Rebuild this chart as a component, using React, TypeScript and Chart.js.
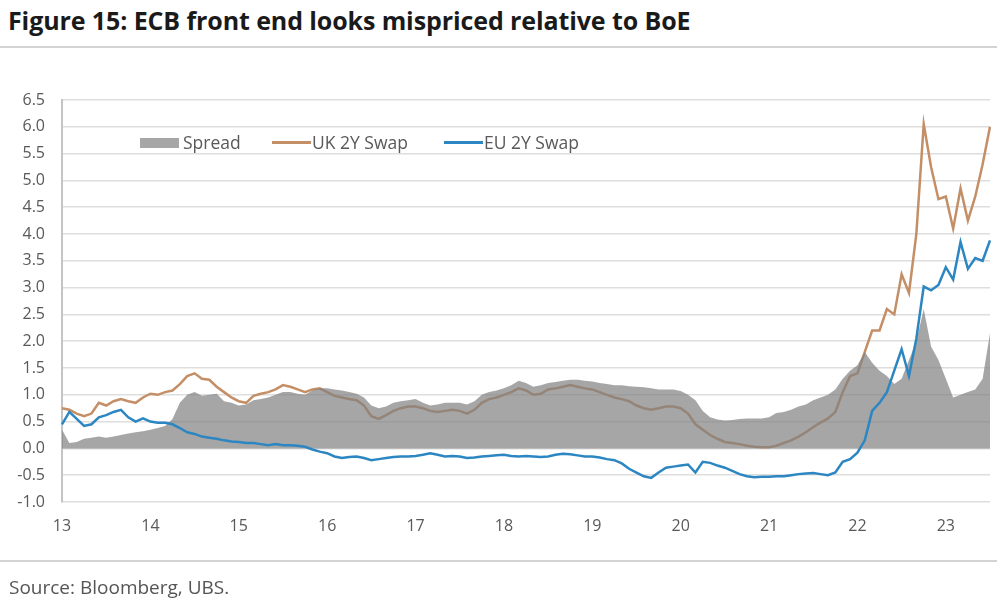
import React, { useEffect, useRef } from 'react';
import { Chart, registerables } from 'chart.js';

Chart.register(...registerables);

const TITLE = 'Figure 15: ECB front end looks mispriced relative to BoE';
const SOURCE = 'Source: Bloomberg, UBS.';
const SERIES_NAMES = ['Spread', 'UK 2Y Swap', 'EU 2Y Swap'];
const YEAR_LABELS = ['13', '14', '15', '16', '17', '18', '19', '20', '21', '22', '23'];
const START_YEAR = 2013;

// Monthly observations, Jan 2013 .. Jul 2023
const ukSwap = [
  0.75, 0.72, 0.65, 0.60, 0.65, 0.85, 0.80, 0.88, 0.92, 0.88, 0.85, 0.95,
  1.02, 1.00, 1.05, 1.08, 1.20, 1.35, 1.40, 1.30, 1.28, 1.15, 1.05, 0.95,
  0.88, 0.85, 0.98, 1.02, 1.05, 1.10, 1.18, 1.15, 1.10, 1.05, 1.10, 1.12,
  1.05, 0.98, 0.95, 0.92, 0.90, 0.80, 0.60, 0.55, 0.62, 0.70, 0.75, 0.78,
  0.78, 0.75, 0.70, 0.68, 0.70, 0.72, 0.70, 0.65, 0.72, 0.85, 0.92, 0.95,
  1.00, 1.05, 1.12, 1.08, 1.00, 1.02, 1.10, 1.12, 1.15, 1.18, 1.15, 1.12,
  1.10, 1.05, 1.00, 0.95, 0.92, 0.88, 0.80, 0.75, 0.72, 0.75, 0.78, 0.78,
  0.75, 0.65, 0.45, 0.35, 0.25, 0.18, 0.12, 0.10, 0.08, 0.05, 0.03, 0.02,
  0.02, 0.05, 0.10, 0.15, 0.22, 0.30, 0.40, 0.48, 0.56, 0.68, 1.05, 1.35,
  1.40, 1.80, 2.20, 2.20, 2.60, 2.50, 3.25, 2.90, 4.00, 6.05, 5.25, 4.65,
  4.70, 4.10, 4.85, 4.25, 4.70, 5.30, 6.00,
];

const euSwap = [
  0.45, 0.68, 0.55, 0.42, 0.45, 0.58, 0.62, 0.68, 0.72, 0.58, 0.50, 0.56,
  0.50, 0.48, 0.48, 0.45, 0.38, 0.30, 0.27, 0.22, 0.20, 0.18, 0.15, 0.13,
  0.12, 0.10, 0.10, 0.08, 0.06, 0.08, 0.06, 0.06, 0.05, 0.03, -0.02, -0.06,
  -0.09, -0.15, -0.18, -0.16, -0.15, -0.18, -0.22, -0.20, -0.18, -0.16, -0.15, -0.15,
  -0.14, -0.12, -0.09, -0.12, -0.15, -0.14, -0.15, -0.18, -0.17, -0.15, -0.14, -0.13,
  -0.12, -0.14, -0.15, -0.14, -0.15, -0.16, -0.15, -0.12, -0.10, -0.11, -0.13, -0.15,
  -0.15, -0.17, -0.20, -0.22, -0.28, -0.38, -0.45, -0.52, -0.55, -0.45, -0.36, -0.34,
  -0.32, -0.30, -0.45, -0.25, -0.27, -0.32, -0.36, -0.42, -0.48, -0.52, -0.54, -0.53,
  -0.53, -0.52, -0.52, -0.50, -0.48, -0.47, -0.46, -0.48, -0.50, -0.45, -0.25, -0.20,
  -0.08, 0.15, 0.70, 0.85, 1.05, 1.45, 1.85, 1.35, 2.05, 3.02, 2.95, 3.05,
  3.38, 3.15, 3.85, 3.35, 3.55, 3.50, 3.88,
];

const spread = [
  0.35, 0.10, 0.12, 0.18, 0.20, 0.22, 0.20, 0.22, 0.25, 0.28, 0.30, 0.32,
  0.35, 0.38, 0.42, 0.55, 0.85, 1.00, 1.05, 0.98, 1.00, 1.02, 0.88, 0.85,
  0.80, 0.82, 0.90, 0.92, 0.95, 1.00, 1.05, 1.05, 1.02, 1.00, 1.08, 1.12,
  1.12, 1.10, 1.08, 1.05, 1.02, 0.95, 0.80, 0.75, 0.78, 0.85, 0.88, 0.90,
  0.92, 0.85, 0.80, 0.82, 0.85, 0.85, 0.85, 0.82, 0.88, 1.00, 1.05, 1.08,
  1.12, 1.18, 1.26, 1.22, 1.15, 1.18, 1.22, 1.24, 1.26, 1.28, 1.28, 1.26,
  1.25, 1.22, 1.20, 1.18, 1.18, 1.16, 1.15, 1.14, 1.12, 1.10, 1.10, 1.10,
  1.07, 1.00, 0.90, 0.70, 0.58, 0.54, 0.52, 0.53, 0.55, 0.56, 0.56, 0.56,
  0.58, 0.66, 0.68, 0.72, 0.78, 0.82, 0.90, 0.95, 1.00, 1.10, 1.30, 1.45,
  1.55, 1.80, 1.60, 1.45, 1.35, 1.20, 1.30, 1.65, 2.00, 2.60, 1.90, 1.65,
  1.30, 0.95, 1.00, 1.05, 1.10, 1.30, 2.15,
];

const months = ukSwap.map((_, i) => `${START_YEAR + Math.floor(i / 12)}-${String((i % 12) + 1).padStart(2, '0')}`);

const UK_COLOR = '#C48F66';
const EU_COLOR = '#2C86C2';
const SPREAD_COLOR = 'rgba(128,128,128,0.7)';
const TEXT_COLOR = '#595959';
const FONT = '"Open Sans", Lato, sans-serif';

export default function App() {
  const canvasRef = useRef<HTMLCanvasElement | null>(null);

  useEffect(() => {
    if (!canvasRef.current) return;
    const chart = new Chart(canvasRef.current, {
      type: 'line',
      data: {
        labels: months,
        datasets: [
          {
            label: SERIES_NAMES[2],
            data: euSwap,
            borderColor: EU_COLOR,
            borderWidth: 2.5,
            pointRadius: 0,
            tension: 0,
            fill: false,
            order: 0,
          },
          {
            label: SERIES_NAMES[0],
            data: spread,
            borderWidth: 0,
            borderColor: 'rgba(0,0,0,0)',
            backgroundColor: SPREAD_COLOR,
            pointRadius: 0,
            tension: 0,
            fill: 'origin',
            order: 1,
          },
          {
            label: SERIES_NAMES[1],
            data: ukSwap,
            borderColor: UK_COLOR,
            borderWidth: 2.5,
            pointRadius: 0,
            tension: 0,
            fill: false,
            order: 2,
          },
        ],
      },
      options: {
        responsive: false,
        animation: false,
        devicePixelRatio: 1,
        layout: { padding: { top: 100, right: 7, bottom: 56, left: 0 } },
        plugins: { legend: { display: false }, tooltip: { enabled: false } },
        scales: {
          x: {
            type: 'category',
            offset: false,
            grid: { display: false, drawTicks: false },
            border: { display: false },
            afterFit: (s: any) => { s.height = 40; },
            ticks: {
              autoSkip: false,
              maxRotation: 0,
              padding: 15,
              color: TEXT_COLOR,
              font: { family: FONT, size: 16 },
              callback: (_v: any, i: number) => (i % 12 === 0 ? YEAR_LABELS[i / 12] : null),
            },
          },
          y: {
            min: -1,
            max: 6.5,
            afterFit: (s: any) => { s.width = 62; },
            grid: { color: '#dedede', lineWidth: 1.5, drawTicks: false },
            border: { display: true, color: '#c4c4c4', width: 2 },
            ticks: {
              stepSize: 0.5,
              padding: 17,
              color: TEXT_COLOR,
              font: { family: FONT, size: 16 },
              callback: (v: any) => Number(v).toFixed(1),
            },
          },
        },
      },
    });
    return () => chart.destroy();
  }, []);

  const legendText: React.CSSProperties = {
    position: 'absolute', top: 131, fontFamily: FONT, fontSize: 17.5, color: TEXT_COLOR, lineHeight: '22px', whiteSpace: 'nowrap',
  };

  return (
    <div style={{ position: 'absolute', left: 0, top: 0, width: 997, height: 598, background: '#fff', overflow: 'hidden' }}>
      <div style={{ position: 'absolute', left: 8, top: 3, fontFamily: FONT, fontWeight: 700, fontSize: 25, lineHeight: '34px', color: '#1a1a1a', whiteSpace: 'nowrap', letterSpacing: -0.1 }}>
        {TITLE}
      </div>
      <div style={{ position: 'absolute', left: 0, top: 46, width: 997, height: 2, background: '#d4d4d4' }} />
      <canvas ref={canvasRef} width={997} height={598} style={{ position: 'absolute', left: 0, top: 0, width: 997, height: 598 }} />
      <div style={{ position: 'absolute', left: 140, top: 138, width: 39, height: 10, background: '#a6a6a6' }} />
      <div style={{ ...legendText, left: 183 }}>{SERIES_NAMES[0]}</div>
      <div style={{ position: 'absolute', left: 272, top: 141, width: 39, height: 2.5, background: UK_COLOR }} />
      <div style={{ ...legendText, left: 312 }}>{SERIES_NAMES[1]}</div>
      <div style={{ position: 'absolute', left: 444, top: 141, width: 39, height: 2.5, background: EU_COLOR }} />
      <div style={{ ...legendText, left: 484 }}>{SERIES_NAMES[2]}</div>
      <div style={{ position: 'absolute', left: 0, top: 560, width: 997, height: 2, background: '#d4d4d4' }} />
      <div style={{ position: 'absolute', left: 9, top: 574, fontFamily: FONT, fontSize: 19, lineHeight: '26px', color: '#555', whiteSpace: 'nowrap' }}>
        {SOURCE}
      </div>
    </div>
  );
}
